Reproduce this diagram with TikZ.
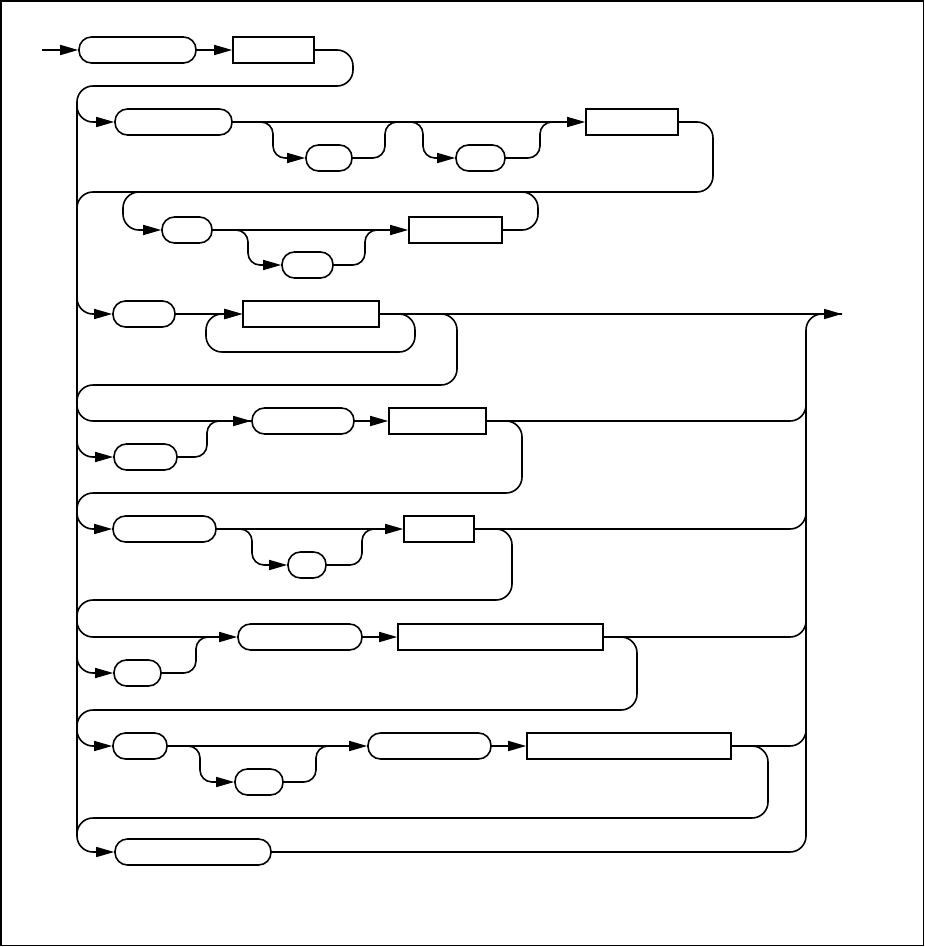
\documentclass[tikz,border=0pt]{standalone}
\usepackage{tikz}
\usetikzlibrary{arrows.meta, positioning, calc}

\tikzset{
    term/.style={draw, rounded corners=12.5pt, minimum height=26pt, inner sep=0pt},
    nterm/.style={draw, minimum height=26pt, inner sep=0pt},
    wire/.style={rounded corners=16pt},
    twig/.style={rounded corners=12pt},
    arr/.style={-{Triangle[length=18pt,width=10pt]}}
}

\begin{document}
\begin{tikzpicture}[x=1pt, y=-1pt, line width=1.6pt]
    \useasboundingbox (0,0) rectangle (925,947);
    \draw[line width=1.4pt] (1,1) rectangle (923.5,945.5);

    % rails and ends
    \coordinate (start) at (42,50);
    \coordinate (finish) at (842,314);
    \coordinate (railL) at (77,86);
    \coordinate (railR) at (806,852);

    % row 1
    \node[term, minimum width=117pt] (t1) at (137.5,50) {};
    \node[nterm, minimum width=81pt] (n1) at (273.5,50) {};
    % row 2
    \node[term, minimum width=117pt] (t2) at (173.5,122) {};
    \node[term, minimum width=46pt] (t2a) at (329,158) {};
    \node[term, minimum width=49pt] (t2b) at (480.5,158) {};
    \node[nterm, minimum width=92pt] (n2) at (632,122) {};
    % row 3
    \node[term, minimum width=50pt] (t3) at (187,230) {};
    \node[term, minimum width=51pt] (t3a) at (307.5,265) {};
    \node[nterm, minimum width=93pt] (n3) at (455.5,230) {};
    % row 4
    \node[term, minimum width=62pt] (t4) at (144,314) {};
    \node[nterm, minimum width=136pt] (n4) at (311,314) {};
    % row 5
    \node[term, minimum width=102pt] (t5) at (303,421) {};
    \node[term, minimum width=63pt] (t5a) at (145.5,457) {};
    \node[nterm, minimum width=97pt] (n5) at (437.5,421) {};
    % row 6
    \node[term, minimum width=103pt] (t6) at (164.5,529) {};
    \node[term, minimum width=38pt] (t6a) at (307,565) {};
    \node[nterm, minimum width=70pt] (n6) at (439,529) {};
    % row 7
    \node[term, minimum width=124pt] (t7) at (300,637) {};
    \node[term, minimum width=47pt] (t7a) at (137.5,673) {};
    \node[nterm, minimum width=205pt] (n7) at (500.5,637) {};
    % row 8
    \node[term, minimum width=54pt] (t8) at (140,746) {};
    \node[term, minimum width=48pt] (t8a) at (259,782) {};
    \node[term, minimum width=123pt] (t8b) at (429.5,746) {};
    \node[nterm, minimum width=204pt] (n8) at (629,746) {};
    % row 9
    \node[term, minimum width=156pt] (t9) at (193,852) {};

    % row 1 and left rail
    \draw[arr] (start) -- (t1.west);
    \draw[arr] (t1.east) -- (n1.west);
    \draw[wire, arr] (n1.east) -- (353,50) -- (353,86) -- (railL) -- (railL |- t9.west) -- (t9.west);

    % row 2
    \draw[wire, arr] ($(railL)+(0,20)$) -- (railL |- t2.west) -- (t2.west);
    \draw[arr] (t2.east) -- (n2.west);
    \draw[twig, arr] (t2.east) -- (273,122) -- (273,158) -- (t2a.west);
    \draw[twig] (t2a.east) -- (385,158) -- (385,122) -- (405,122);
    \draw[twig, arr] (400,122) -- (423,122) -- (423,158) -- (t2b.west);
    \draw[twig] (t2b.east) -- (540,158) -- (540,122) -- (560,122);
    \draw[wire] (n2.east) -- (713,122) -- (713,192) -- (77,192) -- (77,230);

    % row 3
    \draw[wire, arr] (300,192) -- (123,192) -- (123,230) -- (t3.west);
    \draw[arr] (t3.east) -- (n3.west);
    \draw[twig, arr] (t3.east) -- (248,230) -- (248,265) -- (t3a.west);
    \draw[twig] (t3a.east) -- (365,265) -- (365,230) -- (385,230);
    \draw[wire] (n3.east) -- (538,230) -- (538,192) -- (500,192);

    % row 4
    \draw[wire, arr] (railL |- t3.west) -- (railL |- t4.west) -- (t4.west);
    \draw[arr] (t4.east) -- (n4.west);
    \draw[wire, arr] (n4.east) -- (415,314) -- (415,352) -- (206,352) -- (206,314) -- (n4.west);
    \draw[arr] (n4.east) -- (finish);
    \draw[wire] (n4.east) -- (457,314) -- (457,385) -- (77,385) -- (77,421) -- (t5.west);

    % row 5
    \draw[arr] ($(t5.west)+(-20,0)$) -- (t5.west);
    \draw[wire, arr] (railL |- t5.west) -- (railL |- t5a.west) -- (t5a.west);
    \draw[twig] (t5a.east) -- (207,457) -- (207,421) -- (230,421);
    \draw[arr] (t5.east) -- (n5.west);
    \draw[wire] (n5.east) -- (railR |- n5.east) -- (806,390);
    \draw[wire, arr] (n5.east) -- (522,421) -- (522,493) -- (77,493) -- (77,529) -- (t6.west);

    % row 6
    \draw[arr] (t6.east) -- (n6.west);
    \draw[twig, arr] (t6.east) -- (252,529) -- (252,565) -- (t6a.west);
    \draw[twig] (t6a.east) -- (362,565) -- (362,529) -- (385,529);
    \draw[wire] (n6.east) -- (railR |- n6.east) -- (806,500);
    \draw[wire, arr] (n6.east) -- (512,529) -- (512,600) -- (77,600) -- (77,637) -- (t7.west);

    % row 7
    \draw[wire, arr] (railL |- t7.west) -- (railL |- t7a.west) -- (t7a.west);
    \draw[twig] (t7a.east) -- (196,673) -- (196,637) -- (218,637);
    \draw[arr] (t7.east) -- (n7.west);
    \draw[wire] (n7.east) -- (railR |- n7.east) -- (806,605);
    \draw[wire, arr] (n7.east) -- (637,637) -- (637,710) -- (77,710) -- (77,746) -- (t8.west);

    % row 8
    \draw[arr] (t8.east) -- (t8b.west);
    \draw[twig, arr] (t8.east) -- (200,746) -- (200,782) -- (t8a.west);
    \draw[twig] (t8a.east) -- (316,782) -- (316,746) -- (340,746);
    \draw[arr] (t8b.east) -- (n8.west);
    \draw[wire] (n8.east) -- (railR |- n8.east) -- (806,715);
    \draw[wire] (n8.east) -- (768,746) -- (768,818) -- (77,818) -- (77,834);

    % row 9 and right rail
    \draw[wire] (t9.east) -- (railR) -- (railR |- finish) -- (finish);
\end{tikzpicture}
\end{document}
